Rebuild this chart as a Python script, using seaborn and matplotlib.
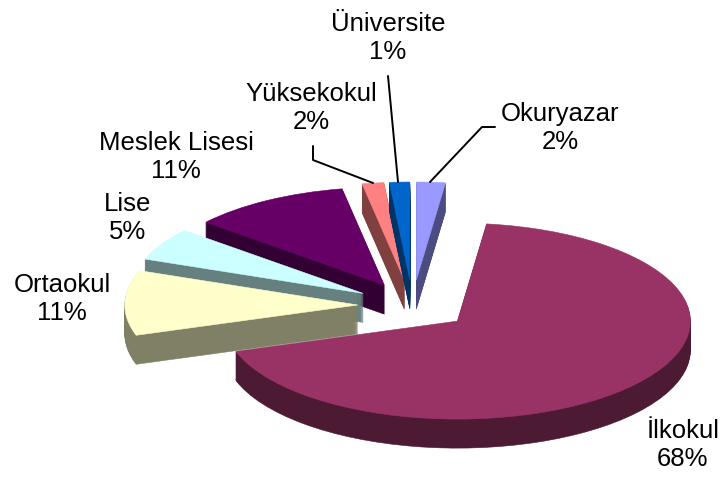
import matplotlib
matplotlib.use("Agg")
import matplotlib.pyplot as plt
from matplotlib.lines import Line2D
import seaborn as sns

sns.set_theme(style="white")
plt.rcParams['font.family'] = ['Liberation Sans', 'DejaVu Sans']

categories = ["Okuryazar", "İlkokul", "Ortaokul", "Lise", "Meslek Lisesi", "Yüksekokul", "Üniversite"]
values = [2.0, 68.0, 10.7, 5.4, 11.0, 1.5, 1.4]
explode = [0.26, 0.25, 0.235, 0.245, 0.24, 0.26, 0.26]
top_colors = sns.color_palette(["#9999FF", "#993366", "#FFFFCC", "#CCFFFF", "#660066", "#FF8080", "#0066CC"])
side_colors = sns.color_palette(["#4C4C80", "#4C1A33", "#808066", "#668080", "#330033", "#804040", "#003366"])
draw_rank = [6, 0, 3, 2, 1, 4, 5]

W, H = 723, 479
RX, RY = 233.0, 98.0
CX, CY = 412.5, 305.5
DEPTH = 29

fig = plt.figure(figsize=(W / 100, H / 100), dpi=100, facecolor="white")
ax = fig.add_axes([0, 0, 1, 1])


def layer(offset, colors, level):
    wedges, _ = ax.pie(values, explode=explode, colors=colors,
                       startangle=90, counterclock=False, radius=1.0,
                       center=(0, -offset / RY),
                       wedgeprops=dict(linewidth=0))
    for wedge, rank, color in zip(wedges, draw_rank, colors):
        wedge.set_edgecolor(color)
        wedge.set_linewidth(0.4)
        wedge.set_zorder(2 + rank + level)


for k in range(DEPTH, 0, -1):
    layer(k, side_colors, (DEPTH - k) * 0.01)
layer(0, top_colors, 0.5)

ax.set_aspect("auto")
ax.set_xlim(-CX / RX, (W - CX) / RX)
ax.set_ylim((CY - H) / RY, CY / RY)
ax.set_frame_on(False)
ax.set_xticks([])
ax.set_yticks([])

label_pos = [(560, 128), (683, 445), (62, 299), (128, 218), (176, 157), (311, 108), (388, 38)]
for name, val, (x, y) in zip(categories, values, label_pos):
    fig.text(x / W, 1 - y / H, f"{name}\n{round(val)}%", ha="center", va="center",
             fontsize=18.5, color="black", linespacing=1.22, zorder=20)

leaders = [
    [(495, 127), (482, 127), (430, 182)],
    [(388, 76), (398, 182)],
    [(313, 146), (313, 160), (373, 183)],
]
for pts in leaders:
    fig.add_artist(Line2D([p[0] / W for p in pts], [1 - p[1] / H for p in pts],
                          color="black", lw=1.4, zorder=15))

fig.savefig("out.png", dpi=100)
